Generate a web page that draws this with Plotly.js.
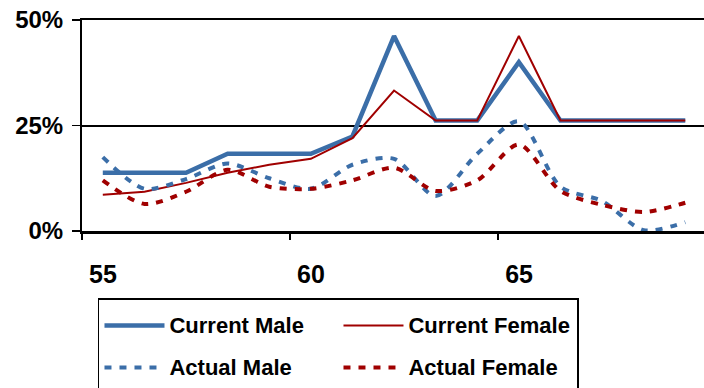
<!DOCTYPE html>
<html>
<head>
<meta charset="utf-8">
<script src="https://cdn.plot.ly/plotly-3.0.1.min.js"></script>
<style>html,body{margin:0;padding:0;background:#fff;}#chart{width:704px;height:388px;}</style>
</head>
<body>
<div id="chart"></div>
<script>
// Ages (categories)
const ages = [55, 56, 57, 58, 59, 60, 61, 62, 63, 64, 65, 66, 67, 68, 69];
// Values in percent
const currentMale   = [13.8, 13.8, 13.8, 18.3, 18.3, 18.3, 22.4, 46.2, 26.2, 26.2, 40.0, 26.2, 26.2, 26.2, 26.2];
const currentFemale = [8.6, 9.3, 11.4, 13.8, 15.7, 17.1, 22.0, 33.3, 26.2, 26.2, 46.2, 26.2, 26.2, 26.2, 26.2];
const actualMale    = [17.5, 10.0, 12.3, 16.0, 12.5, 10.0, 15.7, 17.1, 8.3, 18.3, 26.0, 10.5, 7.1, 0.2, 2.1];
const actualFemale  = [12.0, 6.4, 9.3, 14.5, 10.5, 10.0, 12.0, 15.0, 9.5, 12.0, 20.5, 9.5, 6.2, 4.5, 6.7];
// Tick labels
const yTickVals = [0, 25, 50];
const yTickText = ['0%', '25%', '50%'];
const xTickText = ['55', '60', '65'];
const seriesNames = ['Current Male', 'Current Female', 'Actual Male', 'Actual Female'];

const blue = '#3b6ea8';
const red = '#a00000';

// ticks sit between categories (Excel category axis); labels shifted onto the category
const xTickVals = xTickText.map(t => Number(t) - 0.5);
const legendName = n => '<span style="font-size:22px;baseline-shift:4px">' + n + '</span>';

const traces = [
  {x: ages, y: currentMale, name: legendName(seriesNames[0]), type: 'scatter', mode: 'lines',
   line: {color: blue, width: 4.5}},
  {x: ages, y: currentFemale, name: legendName(seriesNames[1]), type: 'scatter', mode: 'lines',
   line: {color: red, width: 2}},
  {x: ages, y: actualMale, name: legendName(seriesNames[2]), type: 'scatter', mode: 'lines',
   line: {color: blue, width: 4, dash: '7px,8px', shape: 'spline', smoothing: 0.8}},
  {x: ages, y: actualFemale, name: legendName(seriesNames[3]), type: 'scatter', mode: 'lines',
   line: {color: red, width: 4, dash: '7px,8px', shape: 'spline', smoothing: 0.8}}
];

const layout = {
  width: 704, height: 388,
  margin: {l: 82, r: 0, t: 20, b: 157, autoexpand: false},
  paper_bgcolor: '#fff', plot_bgcolor: '#fff',
  showlegend: true,
  xaxis: {
    range: [54.5, 69.45], tickmode: 'array', tickvals: xTickVals, ticktext: xTickText,
    ticks: 'outside', ticklen: 6, tickwidth: 1.5, tickcolor: '#000',
    ticklabelshift: 21, ticklabelstandoff: 13,
    showline: true, mirror: true, linecolor: '#000', linewidth: 2.5,
    showgrid: false, zeroline: false, fixedrange: true,
    tickfont: {family: 'Liberation Sans, Arial, sans-serif', size: 25, weight: 'bold', color: '#000'}
  },
  yaxis: {
    range: [0, 50], tickmode: 'array', tickvals: yTickVals, ticktext: yTickText,
    ticks: 'outside', ticklen: 8, tickwidth: 1.5, tickcolor: '#000',
    ticklabelstandoff: 4,
    showline: true, linecolor: '#000', linewidth: 2,
    showgrid: true, gridcolor: '#000', gridwidth: 2, zeroline: false, fixedrange: true,
    tickfont: {family: 'Liberation Sans, Arial, sans-serif', size: 24, weight: 'bold', color: '#000'}
  },
  legend: {
    orientation: 'h', x: 0.0257, xanchor: 'left', y: -0.318, yanchor: 'top',
    bordercolor: '#000', borderwidth: 1.5, bgcolor: '#fff',
    entrywidth: 164, itemwidth: 60, traceorder: 'normal',
    font: {family: 'Liberation Sans, Arial, sans-serif', size: 30, weight: 'bold', color: '#000'}
  }
};

Plotly.newPlot('chart', traces, layout, {displayModeBar: false, staticPlot: true});
</script>
</body>
</html>
